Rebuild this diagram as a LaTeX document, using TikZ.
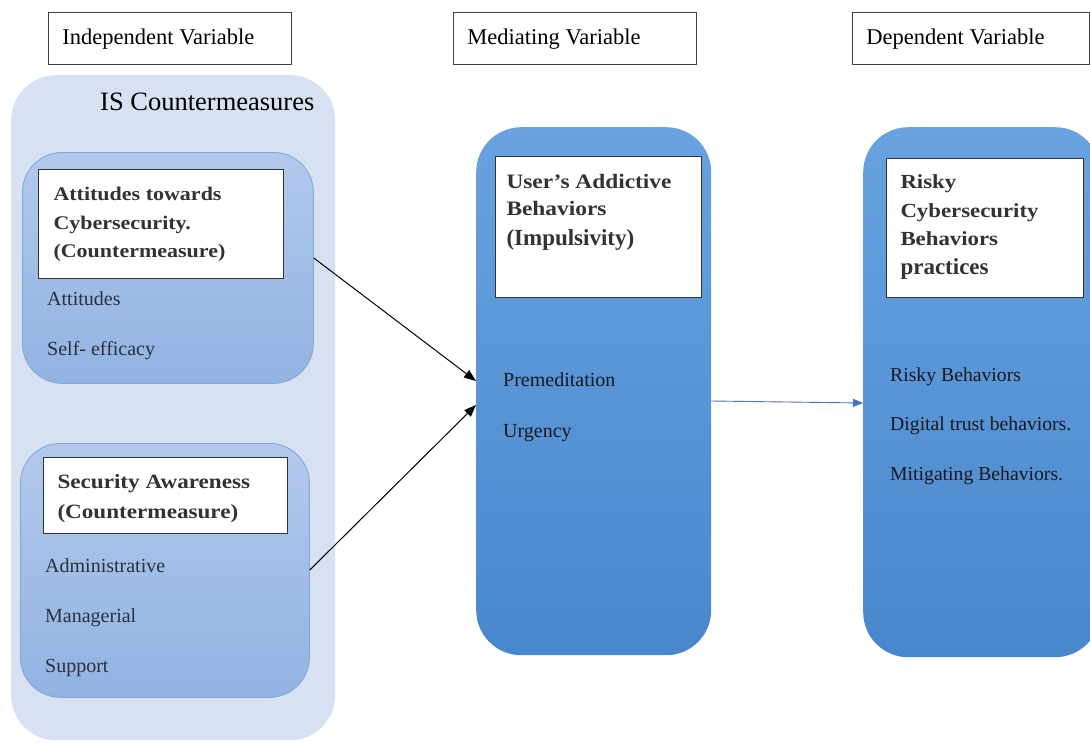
\documentclass[tikz,border=0pt]{standalone}
\usepackage{fontspec}
\setmainfont{Liberation Serif}
\newfontfamily\hdr[FakeStretch=1.14]{Liberation Serif}
\usetikzlibrary{arrows.meta}
\definecolor{panel}{RGB}{215,225,242}
\definecolor{itop}{RGB}{178,201,236}
\definecolor{ibot}{RGB}{146,179,226}
\definecolor{iedge}{RGB}{128,165,216}
\definecolor{btop}{RGB}{104,162,224}
\definecolor{bbot}{RGB}{73,135,204}
\definecolor{txtl}{RGB}{40,48,62}
\definecolor{txtb}{RGB}{25,25,30}
\definecolor{hdrc}{RGB}{50,50,50}
\definecolor{blarrow}{RGB}{68,114,196}
\newcommand\boxtext[5]{\parbox[b][#2][t]{#1}{\leftskip=#4\relax\rule{0pt}{#3}#5}}
\begin{document}
\begin{tikzpicture}[x=1pt,y=-1pt,
  lbl/.style={draw=black!75, line width=0.9pt, fill=white, inner sep=0pt, anchor=north west, font=\fontsize{22.5pt}{27pt}\selectfont},
  panelbox/.style={fill=panel, rounded corners=45pt, inner sep=0pt, anchor=north west},
  ibox/.style={draw=iedge, line width=0.8pt, top color=itop, bottom color=ibot, rounded corners=40pt, inner sep=0pt, anchor=north west},
  bbox/.style={top color=btop, bottom color=bbot, rounded corners=45pt, inner sep=0pt, anchor=north west},
  wbox/.style={draw=black!80, line width=1pt, fill=white, inner sep=0pt, anchor=north west, text=hdrc},
  items/.style={anchor=base west, inner sep=0pt},
  arr/.style={-{Triangle[length=12pt,width=9pt]}, line width=1pt, black},
  barr/.style={-{Triangle[length=10pt,width=8pt]}, line width=0.9pt, blarrow}]
\useasboundingbox (0,0) rectangle (1090,742);
\fill[white] (0,0) rectangle (1090,742);

% top labels
\node[lbl] (iv) at (48,12) {\boxtext{243pt}{52pt}{32pt}{14pt}{Independent Variable}};
\node[lbl] (mv) at (453,12) {\boxtext{243pt}{52pt}{32pt}{14pt}{Mediating Variable}};
\node[lbl] (dv) at (852,12) {\boxtext{237pt}{52pt}{32pt}{14pt}{Dependent Variable}};

% left panel
\node[panelbox, minimum width=324pt, minimum height=665pt] (panel) at (11,75) {};
\node[anchor=base west, inner sep=0pt, font=\fontsize{26.5pt}{30pt}\selectfont] (istitle) at (100,110) {IS Countermeasures};

\node[ibox, minimum width=291pt, minimum height=231pt] (attbox) at (22,152) {};
\node[wbox] (atthead) at (38,169) {\boxtext{245pt}{109pt}{31pt}{15pt}{\hdr\bfseries\fontsize{19.3pt}{28.5pt}\selectfont Attitudes towards\\Cybersecurity.\\(Countermeasure)}};
\node[items, text=txtl, font=\fontsize{20pt}{50pt}\selectfont] (attitems) at (47,305) {\parbox[t]{220pt}{Attitudes\\Self- efficacy}};

\node[ibox, minimum width=289pt, minimum height=254pt] (awbox) at (20,443) {};
\node[wbox] (awhead) at (43,457) {\boxtext{244pt}{76pt}{31pt}{14pt}{\hdr\bfseries\fontsize{20.3pt}{30pt}\selectfont Security Awareness\\(Countermeasure)}};
\node[items, text=txtl, font=\fontsize{20pt}{50pt}\selectfont] (awitems) at (45,572) {\parbox[t]{220pt}{Administrative\\Managerial\\Support}};

% mediating
\node[bbox, minimum width=235pt, minimum height=528pt] (med) at (476,127) {};
\node[wbox] (medhead) at (495,156) {\boxtext{206pt}{141pt}{32pt}{11pt}{\hdr\bfseries\fontsize{20.5pt}{27pt}\selectfont User’s Addictive\\Behaviors\\[3pt]{\rmfamily\fontsize{23pt}{27pt}\selectfont (Impulsivity)}}};
\node[items, text=txtb, font=\fontsize{20pt}{51pt}\selectfont] (meditems) at (503,386) {\parbox[t]{200pt}{Premeditation\\Urgency}};

% dependent
\node[bbox, minimum width=237pt, minimum height=530pt] (dep) at (863,127) {};
\node[wbox] (dephead) at (886,158) {\boxtext{197pt}{139pt}{30pt}{14pt}{\hdr\bfseries\fontsize{20pt}{28.7pt}\selectfont Risky\\Cybersecurity\\Behaviors\\{\rmfamily\fontsize{23pt}{28.7pt}\selectfont practices}}};
\node[items, text=txtb, font=\fontsize{19.7pt}{49.5pt}\selectfont] (depitems) at (890,381) {\parbox[t]{200pt}{Risky Behaviors\\Digital trust behaviors.\\Mitigating Behaviors.}};

% connectors
\draw[arr] (attbox.east |- 0,258) -- (med.west |- 0,381);
\draw[arr] (awbox.east |- 0,570) -- (med.west |- 0,405);
\draw[barr] (med.east |- 0,401) -- (dep.west |- 0,403);
\end{tikzpicture}
\end{document}
